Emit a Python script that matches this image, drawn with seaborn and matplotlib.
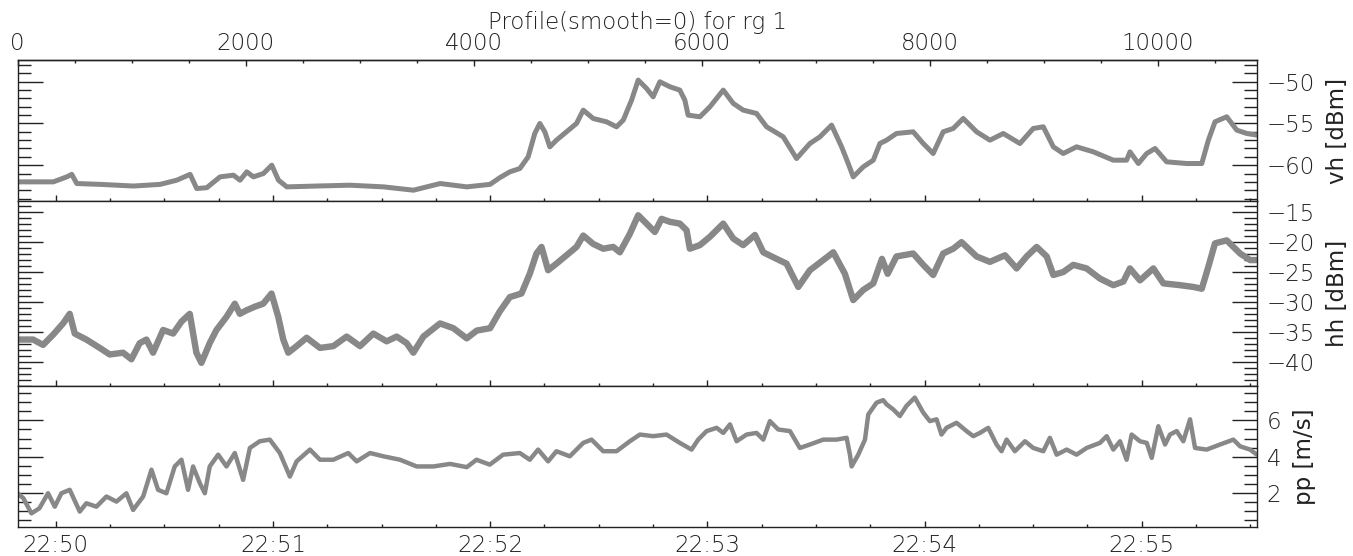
import matplotlib
matplotlib.use('Agg')
import matplotlib.pyplot as plt
import seaborn as sns
import numpy as np
import pandas as pd
from matplotlib.ticker import FixedLocator, FixedFormatter, MultipleLocator

# sample index / value pairs
vh_idx = [0, 110, 225, 313, 430, 474, 518, 722, 1015, 1249, 1395, 1512, 1570, 1658,
          1775, 1892, 1950, 2009, 2067, 2155, 2228, 2287, 2360, 2623, 2915, 3208, 3471,
          3705, 3939, 4143, 4228, 4316, 4404, 4477, 4535, 4579, 4623, 4667, 4725, 4813,
          4901, 4960, 5047, 5164, 5252, 5311, 5384, 5442, 5515, 5573, 5632, 5720, 5807,
          5851, 5880, 5983, 6071, 6188, 6276, 6363, 6480, 6568, 6714, 6831, 6948, 7036,
          7138, 7226, 7284, 7328, 7416, 7504, 7562, 7621, 7707, 7854, 7942, 8029, 8117,
          8205, 8293, 8410, 8527, 8644, 8790, 8907, 8995, 9083, 9170, 9287, 9434, 9609,
          9726, 9755, 9829, 9902, 9975, 10077, 10253, 10385, 10443, 10501, 10604, 10692,
          10780, 10868]
vh_val = [-62.0, -62.0, -62.0, -62.0, -61.4, -61.1, -62.2, -62.3, -62.5, -62.3, -61.8,
          -61.1, -62.8, -62.7, -61.4, -61.2, -61.8, -60.8, -61.4, -61.0, -60.0, -61.8,
          -62.6, -62.5, -62.4, -62.6, -63.0, -62.2, -62.6, -62.3, -61.5, -60.8, -60.4,
          -59.0, -56.2, -55.0, -56.0, -57.8, -57.0, -56.0, -55.0, -53.4, -54.4, -54.8,
          -55.4, -54.6, -52.2, -49.8, -50.8, -51.8, -50.0, -50.6, -51.0, -52.2, -54.0,
          -54.2, -53.0, -51.0, -52.6, -53.4, -53.8, -55.4, -56.6, -59.2, -57.4, -56.6,
          -55.2, -57.8, -59.8, -61.4, -60.2, -59.4, -57.4, -57.0, -56.2, -56.0, -57.4,
          -58.6, -56.0, -55.6, -54.4, -56.0, -57.0, -56.2, -57.4, -55.6, -55.4, -57.8,
          -58.6, -57.8, -58.4, -59.4, -59.4, -58.4, -59.8, -58.6, -58.0, -59.6, -59.8,
          -59.8, -57.0, -54.8, -54.2, -55.8, -56.2, -56.4]

hh_idx = [0, 135, 222, 310, 398, 456, 500, 602, 719, 807, 924, 997, 1070, 1129, 1187,
          1275, 1363, 1436, 1509, 1567, 1611, 1684, 1743, 1831, 1904, 1948, 2007, 2080,
          2153, 2226, 2285, 2329, 2373, 2446, 2534, 2651, 2768, 2885, 3002, 3119, 3236,
          3324, 3411, 3470, 3558, 3704, 3821, 3938, 4026, 4143, 4228, 4316, 4418, 4491,
          4550, 4594, 4652, 4725, 4813, 4901, 4960, 5047, 5135, 5223, 5281, 5369, 5442,
          5515, 5588, 5647, 5720, 5807, 5866, 5895, 5983, 6071, 6188, 6276, 6363, 6466,
          6539, 6656, 6743, 6846, 6948, 7065, 7153, 7255, 7328, 7416, 7504, 7580, 7630,
          7707, 7854, 7942, 8029, 8117, 8205, 8278, 8410, 8527, 8659, 8761, 8849, 8937,
          9025, 9083, 9170, 9258, 9375, 9492, 9609, 9697, 9755, 9843, 9960, 10048, 10194,
          10311, 10385, 10443, 10501, 10604, 10721, 10809, 10868]
hh_val = [-36.3, -36.3, -37.2, -35.5, -33.6, -32.0, -35.3, -36.3, -37.7, -38.8, -38.5,
          -39.6, -36.9, -36.3, -38.5, -34.7, -35.3, -33.3, -32.0, -38.5, -40.2, -36.9,
          -34.7, -32.5, -30.3, -32.0, -31.4, -30.8, -30.3, -28.6, -32.5, -36.3, -38.5,
          -37.4, -36.0, -37.7, -37.4, -35.8, -37.4, -35.3, -36.6, -35.8, -36.9, -38.5,
          -35.8, -33.6, -34.4, -36.1, -34.8, -34.4, -31.6, -29.2, -28.6, -25.3, -21.9,
          -20.8, -24.7, -23.6, -22.2, -20.8, -18.9, -20.3, -21.1, -20.8, -21.7, -18.6,
          -15.5, -16.9, -18.3, -16.1, -16.6, -16.9, -18.0, -21.1, -20.5, -19.1, -16.9,
          -19.4, -20.5, -18.8, -21.7, -22.8, -23.6, -27.5, -24.7, -23.0, -21.7, -25.3,
          -29.7, -28.0, -26.9, -22.8, -25.3, -22.4, -21.9, -23.8, -25.5, -21.9, -21.1,
          -20.0, -22.4, -23.3, -22.2, -24.4, -22.4, -20.8, -22.4, -25.5, -25.0, -23.8,
          -24.4, -26.1, -27.2, -26.6, -24.4, -26.4, -24.4, -26.9, -27.2, -27.5, -27.8,
          -24.1, -20.2, -19.7, -21.9, -23.0, -23.0]

pp_idx = [0, 50, 120, 190, 266, 325, 383, 456, 544, 602, 690, 778, 866, 953, 1012, 1100,
          1173, 1231, 1304, 1377, 1436, 1494, 1538, 1597, 1641, 1684, 1758, 1831, 1904,
          1977, 2036, 2123, 2211, 2299, 2387, 2446, 2563, 2651, 2768, 2899, 2973, 3090,
          3207, 3353, 3499, 3646, 3792, 3938, 4024, 4140, 4257, 4404, 4491, 4564, 4652,
          4725, 4842, 4960, 5033, 5135, 5252, 5369, 5457, 5573, 5690, 5807, 5910, 5968,
          6042, 6130, 6188, 6247, 6305, 6393, 6480, 6539, 6597, 6670, 6773, 6860, 6948,
          7065, 7182, 7270, 7299, 7314, 7372, 7431, 7460, 7533, 7591, 7620, 7678, 7737,
          7795, 7868, 7942, 8000, 8059, 8102, 8146, 8234, 8322, 8381, 8439, 8512, 8585,
          8629, 8673, 8746, 8834, 8907, 8995, 9053, 9112, 9200, 9287, 9375, 9492, 9551,
          9609, 9668, 9726, 9770, 9843, 9902, 9946, 10004, 10063, 10106, 10165, 10223,
          10282, 10326, 10428, 10545, 10662, 10721, 10809, 10868]
pp_val = [1.98, 1.7, 0.87, 1.15, 1.98, 1.24, 1.98, 2.17, 0.97, 1.43, 1.24, 1.8, 1.52,
          1.98, 1.06, 1.8, 3.28, 2.17, 1.98, 3.46, 3.83, 2.17, 3.46, 2.54, 1.98, 3.46,
          4.11, 3.46, 4.2, 2.72, 4.48, 4.85, 4.94, 4.2, 2.9, 3.74, 4.39, 3.83, 3.83, 4.2,
          3.74, 4.2, 4.02, 3.83, 3.46, 3.46, 3.6, 3.42, 3.83, 3.56, 4.11, 4.2, 3.83, 4.39,
          3.74, 4.3, 4.02, 4.76, 4.94, 4.3, 4.3, 4.85, 5.22, 5.13, 5.22, 4.76, 4.39, 4.94,
          5.41, 5.59, 5.31, 5.78, 4.85, 5.22, 5.31, 4.94, 5.96, 5.5, 5.41, 4.48, 4.67,
          4.94, 4.94, 5.04, 4.11, 3.46, 4.11, 4.94, 6.33, 6.98, 7.12, 6.89, 6.61, 6.24,
          6.8, 7.26, 6.43, 5.96, 6.06, 5.22, 5.59, 5.87, 5.41, 5.13, 5.31, 5.59, 4.67,
          4.3, 4.94, 4.3, 4.85, 4.48, 4.3, 5.04, 4.11, 4.39, 4.11, 4.48, 4.76, 5.13,
          4.39, 4.85, 3.83, 5.22, 4.85, 4.76, 3.93, 5.68, 4.67, 5.22, 5.41, 4.85, 6.06,
          4.48, 4.39, 4.67, 4.94, 4.57, 4.39, 4.11]

# time base of the samples
t_start = 22 * 3600 + 49 * 60 + 49.5   # seconds of day at sample 0
rate = 31.75                            # samples per second
n_samples = 10870

sns.set_style('white')
plt.rcParams['font.family'] = ['DejaVu Sans']
plt.rcParams['font.weight'] = 200
FS = 16.5
GREY = '#888888'
INK = '#222222'

fig = plt.figure(figsize=(13.53, 5.56), dpi=100)
L, W = 0.0131, 0.916
ax1 = fig.add_axes([L, 0.639, W, 0.2525])
ax2 = fig.add_axes([L, 0.3058, W, 0.3333])
ax3 = fig.add_axes([L, 0.0522, W, 0.2536])

panels = [
    (ax1, vh_idx, vh_val, 'vh [dBm]', (-64.26, -47.43), 5, 1, 3.6),
    (ax2, hh_idx, hh_val, 'hh [dBm]', (-44.07, -13.06), 5, 1, 4.6),
    (ax3, pp_idx, pp_val, 'pp [m/s]', (0.12, 7.9), 2, 0.5, 3.2),
]

def to_sample(sec_of_day):
    return (sec_of_day - t_start) * rate

t_major = [22 * 3600 + m * 60 for m in range(50, 56)]
t_minor = [22 * 3600 + 50 * 60 + s for s in range(0, 331, 15)]
t_labels = ['22:%02d' % m for m in range(50, 56)]

for ax, idx, val, lab, ylim, major, minor, lw in panels:
    df = pd.DataFrame({'sample': idx, 'value': val})
    sns.lineplot(data=df, x='sample', y='value', ax=ax, color=GREY, lw=lw,
                 estimator=None, sort=True)
    ax.set_xlim(0, n_samples)
    ax.set_ylim(*ylim)
    ax.set_xlabel('')
    ax.set_ylabel(lab, fontsize=FS, labelpad=8, color=INK)
    ax.yaxis.set_label_position('right')
    ax.yaxis.set_major_locator(MultipleLocator(major))
    ax.yaxis.set_minor_locator(MultipleLocator(minor))
    ax.tick_params(axis='y', which='both', direction='in', left=True, right=True,
                   labelleft=False, labelright=True, labelsize=FS, pad=7, width=1,
                   color=INK, labelcolor=INK)
    ax.tick_params(axis='y', which='major', length=18)
    ax.tick_params(axis='y', which='minor', length=9.5)
    ax.xaxis.set_major_locator(FixedLocator([to_sample(t) for t in t_major]))
    ax.xaxis.set_minor_locator(FixedLocator([to_sample(t) for t in t_minor]))
    ax.tick_params(axis='x', which='both', direction='in', bottom=True, top=False,
                   labelbottom=False, width=1, color=INK, labelcolor=INK)
    ax.tick_params(axis='x', which='major', length=4)
    ax.tick_params(axis='x', which='minor', length=2.5)
    for sp in ax.spines.values():
        sp.set_linewidth(1.0)
        sp.set_color(INK)

ax3.xaxis.set_major_formatter(FixedFormatter(t_labels))
ax3.tick_params(axis='x', labelbottom=True, labelsize=FS, pad=5)

top = ax1.secondary_xaxis('top')
top.xaxis.set_major_locator(FixedLocator([0, 2000, 4000, 6000, 8000, 10000]))
top.xaxis.set_minor_locator(FixedLocator(list(range(500, 10870, 500))))
top.tick_params(axis='x', which='both', direction='in', labelsize=FS, pad=4,
                width=1, color=INK, labelcolor=INK)
top.tick_params(axis='x', which='major', length=4)
top.tick_params(axis='x', which='minor', length=2.5)
top.spines['top'].set_linewidth(1.0)
top.spines['top'].set_color(INK)

fig.text(0.4708, 1 - 22 / 556, 'Profile(smooth=0) for rg 1', ha='center',
         va='center', fontsize=FS, color=INK)

fig.savefig('out.png', dpi=100)
